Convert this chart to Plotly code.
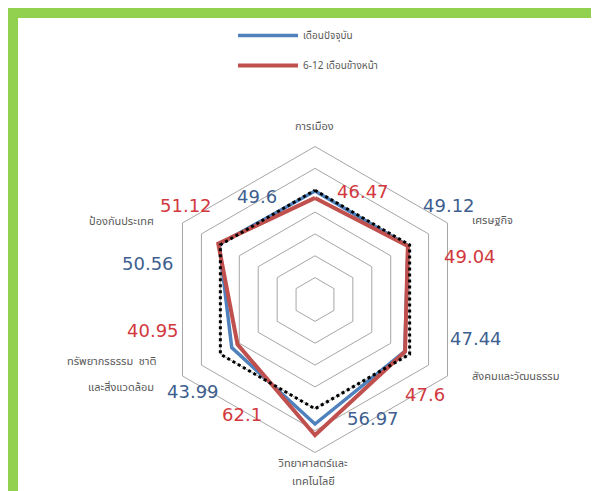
import plotly.graph_objects as go

# ---------------- data ----------------
categories = ["การเมือง", "เศรษฐกิจ", "สังคมและวัฒนธรรม",
              "วิทยาศาสตร์และเทคโนโลยี", "ทรัพยากรธรรมชาติ และสิ่งแวดล้อม", "ป้องกันประเทศ"]
category_label_lines = [["การเมือง"], ["เศรษฐกิจ"], ["สังคมและวัฒนธรรม"],
                        ["วิทยาศาสตร์และ", "เทคโนโลยี"], ["ทรัพยากรธรรม  ชาติ", "และสิ่งแวดล้อม"],
                        ["ป้องกันประเทศ"]]
series_current_name = "เดือนปัจจุบัน"
series_future_name = "6-12 เดือนข้างหน้า"
current_values = [49.6, 49.12, 47.44, 56.97, 43.99, 50.56]
future_values = [46.47, 49.04, 47.6, 62.1, 40.95, 51.12]
baseline_values = [50, 50, 50, 50, 50, 50]

W, H = 599, 491
def px(x, y):
    return x / W, 1 - y / H

def closed(seq):
    return list(seq) + [seq[0]]

FONT = "Tahoma, 'Noto Sans Thai', 'DejaVu Sans', sans-serif"
BLUE_LINE = "#4F81BD"
RED_LINE = "#C0504D"
BLUE_TXT = "#3E5F8F"
RED_TXT = "#D2383E"
GRAY_TXT = "#595959"
GRID = "#A6A6A6"

fig = go.Figure()
fig.add_trace(go.Scatterpolar(r=closed(current_values), theta=closed(categories), mode="lines",
                              name=series_current_name, legendgroup="a",
                              line=dict(color=BLUE_LINE, width=3.5)))
fig.add_trace(go.Scatterpolar(r=closed(future_values), theta=closed(categories), mode="lines",
                              name=series_future_name, legendgroup="b",
                              line=dict(color=RED_LINE, width=4)))
fig.add_trace(go.Scatterpolar(r=closed(baseline_values), theta=closed(categories), mode="lines",
                              name="baseline", showlegend=False,
                              line=dict(color="#000000", width=3, dash="dot")))

# polar domain: centre (307, 291.5)
cx, cy, R = 307, 291.5, 153
x0, y1 = px(cx - R, cy - R)
x1, y0 = px(cx + R, cy + R)

fig.update_layout(
    width=W, height=H,
    margin=dict(l=0, r=0, t=0, b=0),
    paper_bgcolor="white",
    font=dict(family=FONT, color=GRAY_TXT),
    polar=dict(
        domain=dict(x=[x0, x1], y=[y0, y1]),
        bgcolor="white",
        gridshape="linear",
        radialaxis=dict(range=[0, 70], dtick=10, tick0=0, showticklabels=False, ticks="",
                        showline=False, gridcolor=GRID, gridwidth=1),
        angularaxis=dict(type="category", direction="clockwise", rotation=90,
                         showticklabels=False, ticks="", showgrid=False,
                         showline=True, linecolor=GRID, linewidth=1),
    ),
    showlegend=True,
    legend=dict(x=px(225, 0)[0], y=px(0, 13)[1], xanchor="left", yanchor="top",
                traceorder="grouped", tracegroupgap=11, itemwidth=60,
                font=dict(size=10, color=GRAY_TXT, family=FONT),
                bgcolor="rgba(0,0,0,0)"),
)

# green frame (top and left)
GREEN = "#92D050"
fig.add_shape(type="rect", xref="paper", yref="paper", x0=0, x1=10 / W, y0=0, y1=1,
              fillcolor=GREEN, line_width=0, layer="above")
fig.add_shape(type="rect", xref="paper", yref="paper", x0=0, x1=1, y0=1 - 10 / H, y1=1,
              fillcolor=GREEN, line_width=0, layer="above")

# category labels (one annotation per line)
cat_pos = [([(307, 118)], "center"), ([(462, 212)], "left"), ([(462, 368)], "left"),
           ([(305, 455), (305, 473)], "center"), ([(150, 353), (148, 379)], "right"),
           ([(148, 213)], "right")]
for lines, (pts, al) in zip(category_label_lines, cat_pos):
    for line, (x, y) in zip(lines, pts):
        ax, ay = px(x, y)
        fig.add_annotation(x=ax, y=ay, xref="paper", yref="paper", text=line, showarrow=False,
                           xanchor=al, yanchor="middle", align=al,
                           font=dict(size=11, color=GRAY_TXT, family=FONT))

# value labels
cur_pos = [(249, 188), (441, 198), (468, 330), (365, 410), (185, 383), (140, 255)]
fut_pos = [(355, 183), (462, 248), (417, 386), (234, 406), (145, 322), (178, 198)]
for vals, poss, col in ((current_values, cur_pos, BLUE_TXT), (future_values, fut_pos, RED_TXT)):
    for v, (x, y) in zip(vals, poss):
        ax, ay = px(x, y)
        fig.add_annotation(x=ax, y=ay, xref="paper", yref="paper", text=str(v), showarrow=False,
                           xanchor="center", yanchor="middle",
                           font=dict(size=18, color=col, family="'DejaVu Sans', sans-serif"))

fig.write_html("out.html")
